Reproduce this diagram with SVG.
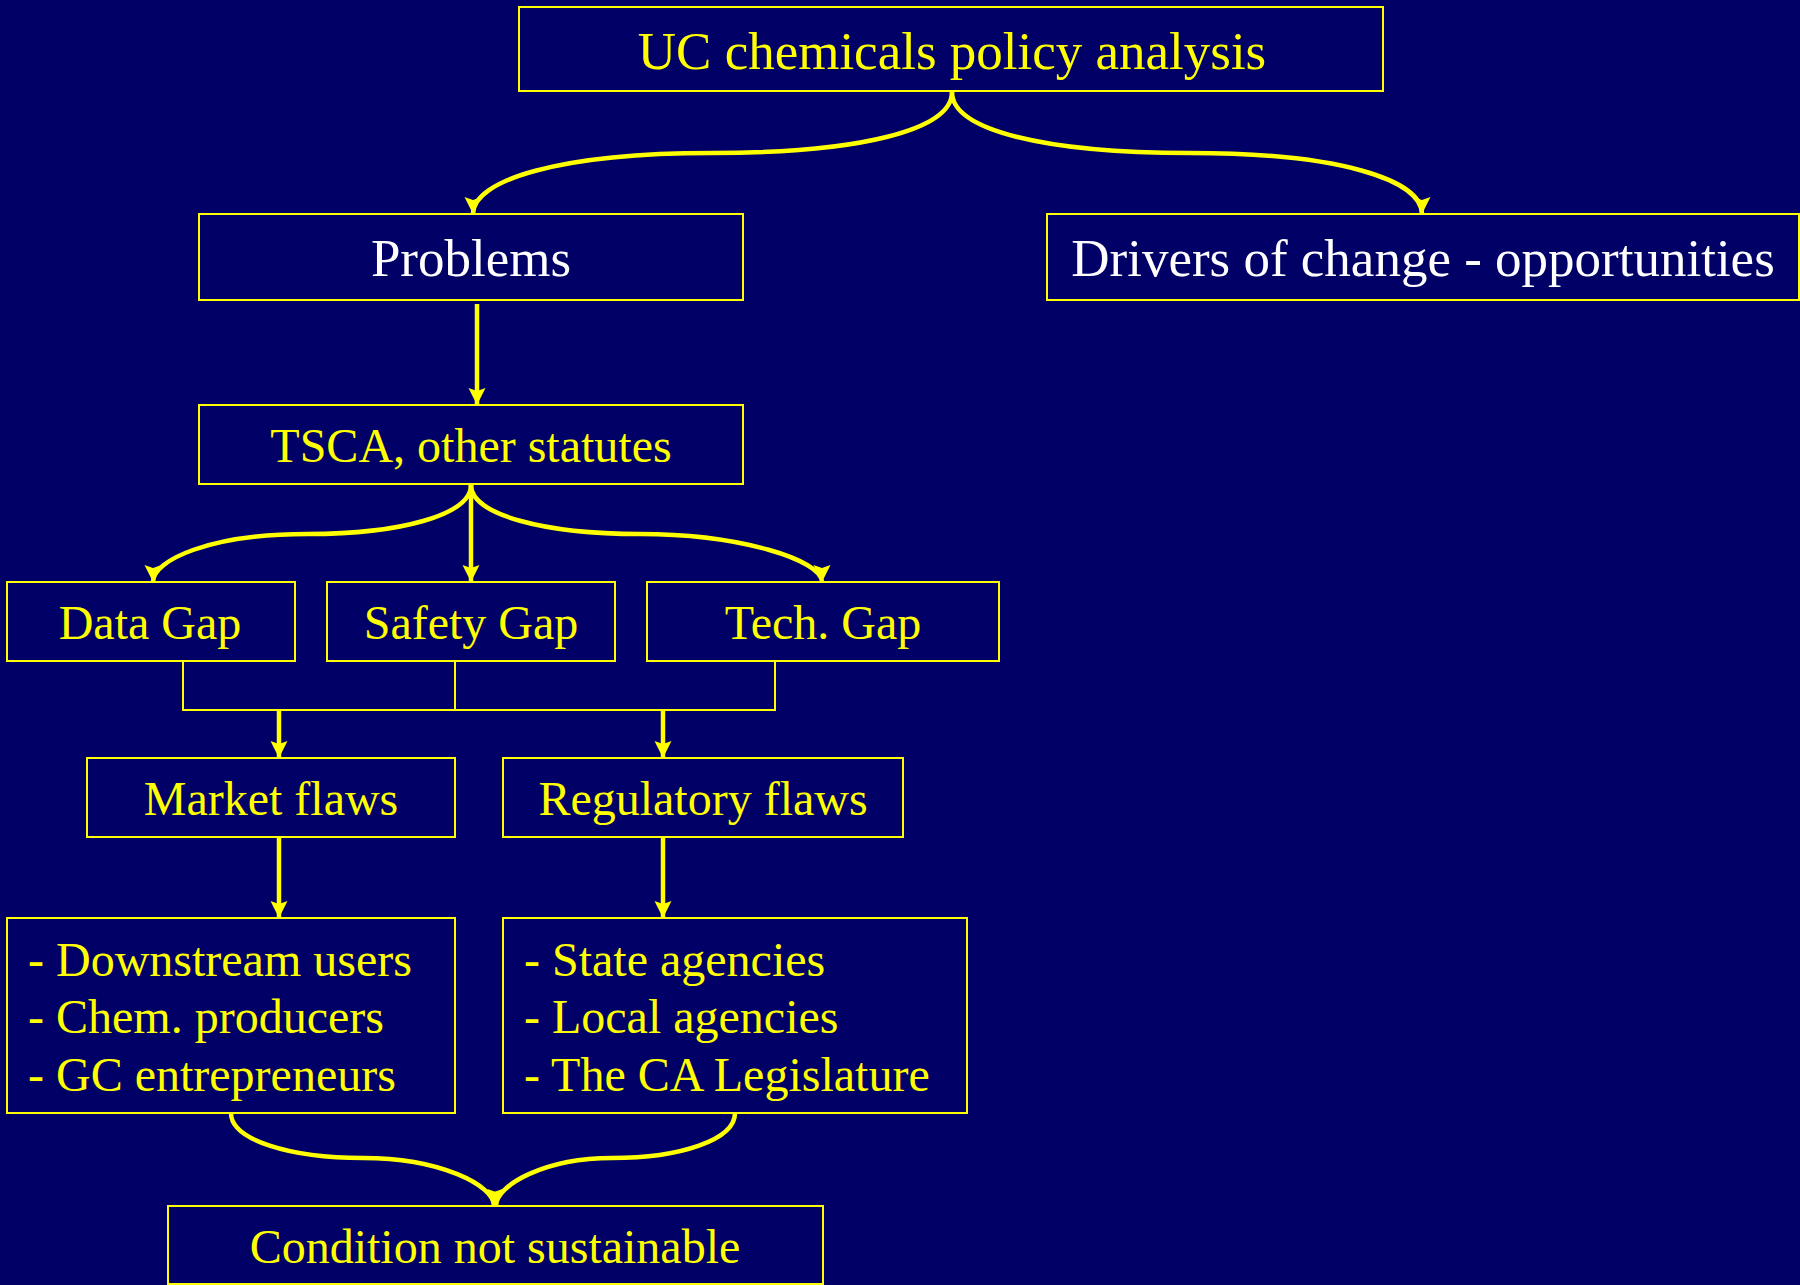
<svg xmlns="http://www.w3.org/2000/svg" width="1800" height="1285" viewBox="0 0 1800 1285">
<style>
.box{fill:#000066;stroke:#FFFF00;stroke-width:2}
.t{font-family:"Liberation Serif","Times New Roman",serif;fill:#FFFF00}
.big{font-size:53px}
.sm{font-size:48px}
.w{fill:#FFFFFF}
.c{stroke:#FFFF00;stroke-width:4.5;fill:none}
.thin{stroke:#FFFF00;stroke-width:2;fill:none}
</style>
<defs>
<marker id="ah" markerUnits="userSpaceOnUse" markerWidth="20" markerHeight="20" refX="17" refY="8.5" orient="auto">
<path d="M0,0 L17,8.5 L0,17 L3,8.5 Z" fill="#FFFF00"/>
</marker>
</defs>
<rect width="1800" height="1285" fill="#000066"/>
<g id="connectors">
<path class="c" marker-end="url(#ah)" d="M952,92 C952,130 860,153 712,153 C560,153 473,180 473,214"/>
<path class="c" marker-end="url(#ah)" d="M952,92 C952,130 1044,153 1190,153 C1340,153 1422,180 1422,214"/>
<path class="c" marker-end="url(#ah)" d="M477,304 L477,405"/>
<path class="c" marker-end="url(#ah)" d="M471,485 C471,515 400,534 308,534 C210,534 153,560 153,582"/>
<path class="c" marker-end="url(#ah)" d="M471,485 L471,582"/>
<path class="c" marker-end="url(#ah)" d="M471,485 C471,515 545,534 640,534 C740,534 822,560 822,582"/>
<path class="thin" d="M183,661 L183,710 L775,710 L775,661 M455,661 L455,710"/>
<path class="c" marker-end="url(#ah)" d="M279,710 L279,758"/>
<path class="c" marker-end="url(#ah)" d="M663,710 L663,758"/>
<path class="c" marker-end="url(#ah)" d="M279,838 L279,918"/>
<path class="c" marker-end="url(#ah)" d="M663,838 L663,918"/>
<path class="c" marker-end="url(#ah)" d="M231,1113 C231,1140 290,1158 363,1158 C440,1158 494,1185 494,1206"/>
<path class="c" marker-end="url(#ah)" d="M735,1113 C735,1140 680,1158 612,1158 C545,1158 496,1185 496,1206"/>
</g>
<g id="n-top">
<rect class="box" x="519" y="7" width="864" height="84"/>
<text class="t big" x="952" y="69" text-anchor="middle">UC chemicals policy analysis</text>
</g>
<g id="n-problems">
<rect class="box" x="199" y="214" width="544" height="86"/>
<text class="t big w" x="471" y="276" text-anchor="middle">Problems</text>
</g>
<g id="n-drivers">
<rect class="box" x="1047" y="214" width="752" height="86"/>
<text class="t big w" x="1423" y="276" text-anchor="middle">Drivers of change - opportunities</text>
</g>
<g id="n-tsca">
<rect class="box" x="199" y="405" width="544" height="79"/>
<text class="t sm" x="471" y="462" text-anchor="middle">TSCA, other statutes</text>
</g>
<g id="n-data">
<rect class="box" x="7" y="582" width="288" height="79"/>
<text class="t sm" x="150" y="639" text-anchor="middle">Data Gap</text>
</g>
<g id="n-safety">
<rect class="box" x="327" y="582" width="288" height="79"/>
<text class="t sm" x="471" y="639" text-anchor="middle">Safety Gap</text>
</g>
<g id="n-tech">
<rect class="box" x="647" y="582" width="352" height="79"/>
<text class="t sm" x="823" y="639" text-anchor="middle">Tech. Gap</text>
</g>
<g id="n-market">
<rect class="box" x="87" y="758" width="368" height="79"/>
<text class="t sm" x="271" y="815" text-anchor="middle">Market flaws</text>
</g>
<g id="n-regulatory">
<rect class="box" x="503" y="758" width="400" height="79"/>
<text class="t sm" x="703" y="815" text-anchor="middle">Regulatory flaws</text>
</g>
<g id="n-market-list">
<rect class="box" x="7" y="918" width="448" height="195"/>
<text class="t sm" x="28" y="976">- Downstream users</text>
<text class="t sm" x="28" y="1033">- Chem. producers</text>
<text class="t sm" x="28" y="1091">- GC entrepreneurs</text>
</g>
<g id="n-reg-list">
<rect class="box" x="503" y="918" width="464" height="195"/>
<text class="t sm" x="524" y="976">- State agencies</text>
<text class="t sm" x="524" y="1033">- Local agencies</text>
<text class="t sm" x="524" y="1091">- The CA Legislature</text>
</g>
<g id="n-condition">
<rect class="box" x="168" y="1206" width="655" height="78"/>
<text class="t sm" x="495" y="1263" text-anchor="middle">Condition not sustainable</text>
</g>
</svg>
